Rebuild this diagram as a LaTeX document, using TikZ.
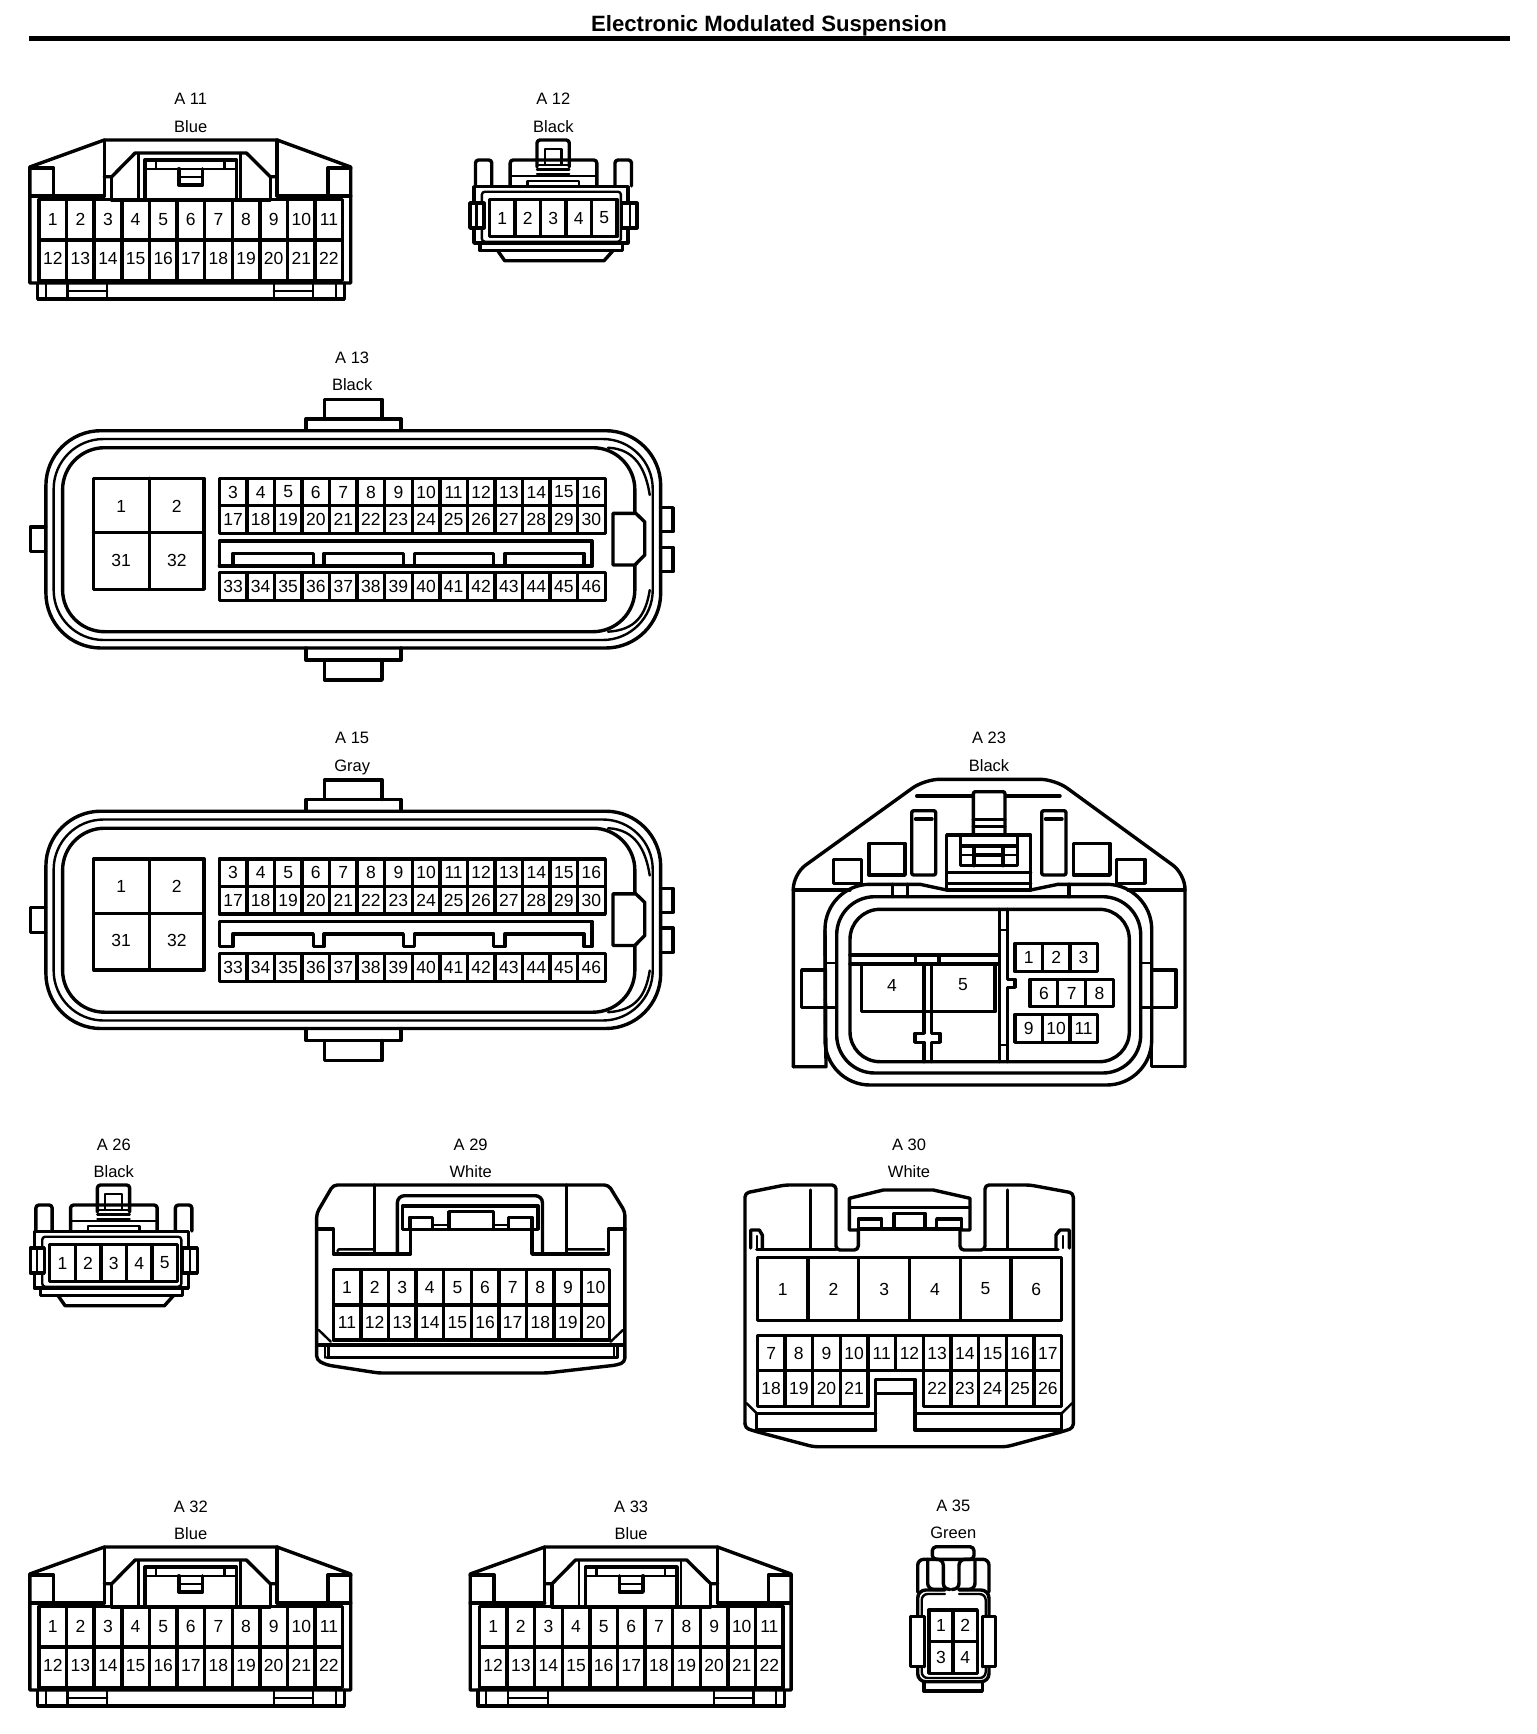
\documentclass[tikz,border=0pt]{standalone}
\usepackage{fontspec}
\setmainfont{Liberation Sans}
\tikzset{
 ln/.style={line width=3.4pt,line join=round,line cap=round},
 thn/.style={line width=2.4pt,line join=round,line cap=round},
 pin/.style={inner sep=0pt,font=\fontsize{17.5}{18}\selectfont},
 captext/.style={inner sep=0pt,anchor=base,font=\fontsize{16.5}{18}\selectfont},
 ttl/.style={inner sep=0pt,font=\fontsize{22.15}{24}\selectfont\bfseries},
 squeezed/.style={x=0.9935pt}
}
\newcommand{\pinoff}{0}
% x0, cell width, y top, y bottom, labels
\newcommand{\pinrow}[5]{\foreach \pl [count=\ci] in {#5}{
  \draw[ln] ({#1+(\ci-1)*#2},#3) rectangle ({#1+\ci*#2},#4);
  \node[pin] (p\pl) at ({#1+(\ci-.5)*#2},{(#3+#4)/2+\pinoff}) {\pl};}}
\newcommand{\heads}[4]{\node[captext] (name) at (#1,{#2+6}) {#3};\node[captext] (colour) at (#1,{#2+33.5}) {#4};}

\newcommand{\connAeleven}{
 \draw[ln] (30,283)--(30,167)--(105,140)--(279,140)--(353,167)--(353,283)--cycle;
 \draw[ln] (30,168)--(54,168)--(54,196) (30,196)--(105,196);
 \draw[ln] (353,168)--(330,168)--(330,196) (353,196)--(279,196);
 \draw[ln] (105,140)--(105,196) (279,140)--(279,196);
 \draw[ln] (105,176.7)--(112.5,176.7)--(136,153)--(248,153)--(272,176.7)--(279,176.7);
 \draw[ln] (112.5,176.7)--(112.5,200)--(272,200)--(272,176.7);
 \draw[thn] (139.5,153)--(139.5,200) (242,153)--(242,200);
 \draw[ln] (146,198)--(146,160)--(238,160)--(238,198);
 \draw[thn] (146,168.7)--(238,168.7) (157,160)--(157,168.7) (226,160)--(226,168.7);
 \draw[ln] (180,168.7)--(180,185)--(204,185)--(204,168.7);
 \draw[thn] (180,176.7)--(204,176.7);
 \draw[ln] (38,283)--(38,299)--(346.5,299)--(346.5,283);
 \draw[thn] (46,283)--(46,299) (338,283)--(338,299);
 \draw[thn] (68,283)--(68,299) (108,283)--(108,299) (68,291)--(108,291);
 \draw[thn] (275.5,283)--(275.5,299) (315,283)--(315,299) (275.5,291)--(315,291);
 \pinrow{39.2}{27.8}{199.5}{240}{1,2,3,4,5,6,7,8,9,10,11}
 \renewcommand{\pinoff}{-2}
 \pinrow{39.2}{27.8}{240}{280.7}{12,13,14,15,16,17,18,19,20,21,22}
 \renewcommand{\pinoff}{0}
}
\newcommand{\connAtwelve}{
 \draw[ln,rounded corners=3pt] (540.5,167)--(540.5,140)--(573,140)--(573,167);
 \draw[thn] (548.4,165)--(548.4,149)--(565,149)--(565,165);
 \draw[thn] (540.5,165)--(573,165) (540.5,169.5)--(573,169.5) (540.5,174)--(573,174);
 \draw[ln,rounded corners=3pt] (513.5,186)--(513.5,160)--(600.7,160)--(600.7,186);
 \draw[thn] (513.5,176)--(600.7,176);
 \draw[ln,rounded corners=3pt] (478.6,186)--(478.6,160)--(495,160)--(495,186);
 \draw[ln,rounded corners=3pt] (619,186)--(619,160)--(635.6,160)--(635.6,186);
 \draw[thn] (531,185)--(531,181)--(583,181)--(583,185);
 \draw[ln] (477,243)--(477,186.7)--(632,186.7)--(632,243)--cycle;
 \draw[ln] (483,243)--(483,250.7)--(626.4,250.7)--(626.4,243);
 \draw[ln] (501,250.7)--(508,260.7)--(608,260.7)--(617,250.7);
 \draw[thn,rounded corners=3pt] (485,191.7) rectangle (625,241.7);
 \draw[ln,fill=white] (473,203) rectangle (487,228);
 \draw[thn] (479.5,203)--(479.5,228);
 \draw[ln,fill=white] (625.5,203) rectangle (641,228);
 \draw[thn] (634,203)--(634,228);
 \pinrow{492.6}{25.7}{199.3}{236.7}{1,2,3,4,5}
}
\newcommand{\connBig}{
 \draw[ln] (326.6,419)--(326.6,399.3)--(384.5,399.3)--(384.5,419);
 \draw[ln] (307.8,430)--(307.8,419)--(403.8,419)--(403.8,430);
 \draw[ln,rounded corners=55pt] (46.2,430.7) rectangle (665,648);
 \draw[thn,rounded corners=50pt] (54,439) rectangle (657,640);
 \draw[ln,rounded corners=42pt] (63,447.7) rectangle (639,631.7);
 \draw[thn] (612,447.7) .. controls (640,449) and (650,470) .. (654,495);
 \draw[thn] (612,631.7) .. controls (640,630) and (650,615) .. (654,590);
 \draw[ln] (307.8,648)--(307.8,660)--(403.8,660)--(403.8,648);
 \draw[ln] (326.6,660)--(326.6,680)--(384.5,680)--(384.5,660);
 \draw[ln] (46,527)--(30.5,527)--(30.5,551.7)--(46,551.7);
 \draw[ln] (665,507.7)--(677.5,507.7)--(677.5,531.7)--(665,531.7);
 \draw[ln] (665,547.3)--(677.5,547.3)--(677.5,571.7)--(665,571.7);
 \draw[ln,fill=white] (617,513.3)--(640,513.3)--(649,522)--(649,555)--(639,565)--(617,565)--cycle;
 \draw[ln] (94.2,478.3) rectangle (205.5,589.3) (150.3,478.3)--(150.3,589.3) (94.2,532.7)--(205.5,532.7);
 \node[pin] (p1) at (122,506) {1};
 \node[pin] (p2) at (178,506) {2};
 \node[pin] (p31) at (122,560) {31};
 \node[pin] (p32) at (178,560) {32};
 \pinrow{220.7}{27.75}{478.3}{505.7}{3,4,5,6,7,8,9,10,11,12,13,14,15,16}
 \pinrow{220.7}{27.75}{505.7}{533.3}{17,18,19,20,21,22,23,24,25,26,27,28,29,30}
 \pinrow{220.7}{27.75}{572.7}{600.7}{33,34,35,36,37,38,39,40,41,42,43,44,45,46}
 \draw[ln] (220.7,566)--(220.7,541)--(595.8,541)--(595.8,566)--(587.7,566)--(587.7,553.3)--(508.3,553.3)--(508.3,566)--(497,566)--(497,553.3)--(417.2,553.3)--(417.2,566)--(406,566)--(406,553.3)--(326.2,553.3)--(326.2,566)--(315.4,566)--(315.4,553.3)--(234.6,553.3)--(234.6,566)--cycle;
}
\begin{document}
\begin{tikzpicture}[x=1pt,y=-1pt]
\useasboundingbox (0,0) rectangle (1536,1734);
\fill[white] (0,0) rectangle (1536,1734);
\node[ttl] (title) at (769,26) {Electronic Modulated Suspension};
\fill[black] (28.7,36) rectangle (1509.6,41);

% A11
\begin{scope}[name prefix=A11-,squeezed]
 \heads{192}{99}{A 11}{Blue}
 \connAeleven
\end{scope}
% A12
\begin{scope}[name prefix=A12-,squeezed]
 \heads{557}{99}{A 12}{Black}
 \connAtwelve
\end{scope}
% A13
\begin{scope}[name prefix=A13-,squeezed]
 \heads{354.5}{357}{A 13}{Black}
 \connBig
 \draw[ln] (220.7,566)--(595.8,566);
\end{scope}
% A15
\begin{scope}[name prefix=A15-,squeezed,yshift=-380.5pt]
 \heads{354.5}{357}{A 15}{Gray}
 \connBig
\end{scope}
% A23
\begin{scope}[name prefix=A23-]
 \heads{989}{737.5}{A 23}{Black}
 \draw[ln,rounded corners=15pt] (793.3,1066.7)--(793.3,874)--(924.6,779.3)--(1055,779.3)--(1185,874)--(1185,1066.7);
 \draw[ln] (793.3,1066.7)--(826,1066.7)--(825,930);
 \draw[ln] (1185,1066.7)--(1151.7,1066.7)--(1151.7,1040);
 \draw[ln] (793.3,890)--(850,890) (1185,890)--(1128,890);
 \draw[ln,rounded corners=45pt] (825,1000)--(825,884.3)--(920,884.3);
 \draw[ln,rounded corners=45pt] (1151.7,1000)--(1151.7,884.3)--(1058,884.3);
 \draw[ln] (920,884.3)--(946.7,890) (1058,884.3)--(1030.7,890);
 \draw[ln,rounded corners=45pt] (825,1000)--(825,1085)--(1151.7,1085)--(1151.7,1000);
 \draw[ln,rounded corners=38pt] (836.7,896.7) rectangle (1140.7,1073);
 \draw[ln,rounded corners=30pt] (850,909.3) rectangle (1129.3,1061.7);
 \draw[ln] (825,970)--(801.7,970)--(801.7,1007.3)--(825,1007.3);
 \draw[ln] (1151.7,970)--(1176,970)--(1176,1007.3)--(1151.7,1007.3);
 \draw[thn] (825,962.7)--(836.7,962.7) (825,1007.3)--(836.7,1007.3) (1140.7,962.7)--(1151.7,962.7) (1140.7,1007.3)--(1151.7,1007.3);
 \draw[ln] (916.7,796)--(1060,796);
 \draw[ln,fill=white,rounded corners=2pt] (973.3,835)--(973.3,791.7)--(1005,791.7)--(1005,835);
 \draw[ln] (973.3,819.3)--(1005,819.3) (973.3,826.7)--(1005,826.7);
 \draw[ln] (946.7,890) rectangle (1030.7,835);
 \draw[ln] (946.7,872.7)--(1030.7,872.7) (946.7,883.3)--(1030.7,883.3);
 \draw[ln] (960.7,835)--(960.7,865.7)--(1017.3,865.7)--(1017.3,835);
 \draw[ln] (974,846)--(974,865.7) (1003,846)--(1003,865.7) (960.7,846)--(1017.3,846);
 \draw[thn] (960.7,855)--(974,855) (1003,855)--(1017.3,855);
 \draw[ln] (974,855)--(1003,855);
 \draw[ln,rounded corners=2pt] (911.7,810.7) rectangle (935.7,875);
 \draw[ln] (915.5,819)--(932,819);
 \draw[ln,rounded corners=2pt] (1041.7,810.7) rectangle (1066,875);
 \draw[ln] (1045.5,819)--(1062,819);
 \draw[ln] (869,843.3) rectangle (905,875);
 \draw[ln] (1073.3,843.3) rectangle (1110,875);
 \draw[ln] (833.3,859.3) rectangle (861.7,883.3);
 \draw[ln] (1116.7,859.3) rectangle (1145,883.3);
 \draw[ln] (892.7,884.3)--(892.7,896.7) (907.3,884.3)--(907.3,896.7) (1069,884.3)--(1069,896.7);
 \draw[ln] (850,955)--(998.3,955) (850,964)--(998.3,964);
 \draw[ln] (915.7,955)--(915.7,964) (939,955)--(939,964);
 \draw[ln] (999.3,909.3)--(999.3,1061.7) (1007.3,909.3)--(1007.3,979.3)--(1015,979.3)--(1015,987.3)--(1007.3,987.3)--(1007.3,1061.7);
 \draw[thn] (999.3,930)--(1007.3,930) (999.3,1045)--(1007.3,1045);
 \draw[ln] (924,964)--(924,1033.3)--(915,1033.3)--(915,1042.3)--(924,1042.3)--(924,1061.7);
 \draw[ln] (931.7,964)--(931.7,1033.3)--(940,1033.3)--(940,1042.3)--(931.7,1042.3)--(931.7,1061.7);
 \draw[ln] (861.7,964)--(861.7,1011.7)--(995,1011.7)--(995,964);
 \node[pin] (p4) at (892,985.5) {4};
 \node[pin] (p5) at (963,985) {5};
 \pinrow{1015}{27.43}{943.3}{971.7}{1,2,3}
 \pinrow{1030}{27.77}{979.3}{1006.7}{6,7,8}
 \pinrow{1015}{27.43}{1014.3}{1042.3}{9,10,11}
\end{scope}
% A26
\begin{scope}[name prefix=A26-,squeezed,xshift=-439.6pt,yshift=-1045pt]
 \heads{557}{99}{A 26}{Black}
 \connAtwelve
\end{scope}
% A29
\begin{scope}[name prefix=A29-,squeezed]
 \heads{473.75}{1144}{A 29}{White}
 \draw[ln,rounded corners=4pt] (335.4,1185)--(612.5,1185)--(629,1211.7)--(629,1362)--(621,1365)--(550,1373)--(381,1373)--(329,1365)--(318.75,1360)--(318.75,1213.3)--cycle;
 \draw[ln] (377,1185)--(377,1254) (570,1185)--(570,1254);
 \draw[ln] (318.75,1229)--(335.4,1229)--(335.4,1254)--(413.3,1254)--(413.3,1229.3);
 \draw[ln] (629,1229)--(612.5,1229)--(612.5,1254)--(535.4,1254)--(535.4,1229.3);
 \draw[ln,rounded corners=7pt] (400,1254)--(400,1195.7)--(546,1195.7)--(546,1254);
 \draw[ln] (405,1229.3)--(405,1206)--(541.7,1206)--(541.7,1229.3)--cycle;
 \draw[ln] (412.5,1229.3)--(412.5,1217.3)--(435.4,1217.3)--(435.4,1229.3);
 \draw[ln] (511.7,1229.3)--(511.7,1217.3)--(535.4,1217.3)--(535.4,1229.3);
 \draw[ln] (452,1229.3)--(452,1211.7)--(496.7,1211.7)--(496.7,1229.3);
 \draw[thn] (435.4,1225)--(452,1225) (496.7,1225)--(511.7,1225);
 \draw[thn] (339.6,1251)--(341,1249.3)--(377,1249.3) (571.7,1249.3)--(608.3,1249.3);
 \pinrow{335.4}{27.79}{1269.3}{1305}{1,2,3,4,5,6,7,8,9,10}
 \pinrow{335.4}{27.79}{1305}{1340}{11,12,13,14,15,16,17,18,19,20}
 \draw[ln] (320.8,1345)--(627,1345) (329,1357.7)--(621,1357.7);
 \draw[thn] (327,1345)--(327,1357.7) (330.5,1345)--(330.5,1357.7) (618,1345)--(618,1357.7) (621.5,1345)--(621.5,1357.7);
 \draw[thn] (320.8,1330)--(333,1341.7) (627,1330)--(614.6,1341.7);
\end{scope}
% A30
\begin{scope}[name prefix=A30-]
 \heads{909}{1144}{A 30}{White}
 \draw[ln,rounded corners=4pt] (745,1423.3)--(745,1193)--(785,1185)--(836,1185)--(836,1250)--(858.3,1250)--(858.3,1230);
 \draw[ln,rounded corners=4pt] (745,1423.3)--(745,1428)--(756.7,1431.7)--(813.3,1446.7)--(1006.7,1446.7)--(1062,1431.7)--(1073.3,1428)--(1073.3,1193)--(1030,1185)--(985,1185)--(985,1250)--(960,1250)--(960,1230);
 \draw[ln] (849.3,1230)--(849.3,1198.3)--(883.3,1190)--(933.3,1190)--(970,1198.3)--(970,1230)--(960,1230) (849.3,1230)--(858.3,1230);
 \draw[thn] (849.3,1207.3)--(970,1207.3);
 \draw[ln] (810.7,1190)--(810.7,1249) (1007.3,1190)--(1007.3,1249);
 \draw[ln] (756.7,1249.3)--(836,1249.3) (985,1249.3)--(1058,1249.3);
 \draw[ln] (750.7,1248)--(750.7,1230)--(759.3,1230)--(762.3,1235)--(762.3,1248);
 \draw[thn] (756.7,1236)--(756.7,1248);
 \draw[ln] (1069.3,1248)--(1069.3,1230)--(1060,1230)--(1056,1235)--(1056,1248);
 \draw[thn] (1063,1236)--(1063,1248);
 \draw[ln] (858.3,1229)--(961.7,1229);
 \draw[ln] (858.3,1229)--(858.3,1219)--(881.7,1219)--(881.7,1229);
 \draw[ln] (936.7,1229)--(936.7,1219)--(961.7,1219)--(961.7,1229);
 \draw[ln] (894,1229)--(894,1213.3)--(925,1213.3)--(925,1229);
 \pinrow{757.3}{50.73}{1257.3}{1320.7}{1,2,3,4,5,6}
 \pinrow{757.3}{27.67}{1335.7}{1370.7}{7,8,9,10,11,12,13,14,15,16,17}
 \pinrow{757.3}{27.67}{1370.7}{1406.7}{18,19,20,21}
 \pinrow{923.3}{27.67}{1370.7}{1406.7}{22,23,24,25,26}
 \draw[ln] (875.7,1430)--(875.7,1379.3)--(915,1379.3)--(915,1430);
 \draw[ln] (875.7,1393.3)--(915,1393.3);
 \draw[ln] (875.7,1430)--(756.7,1430)--(756.7,1413.3) (915,1430)--(1061.7,1430)--(1061.7,1413.3);
 \draw[ln] (756.7,1413.3)--(875.7,1413.3) (915,1413.3)--(1061.7,1413.3);
 \draw[thn] (746.7,1403.3)--(756.7,1413.3) (1072,1403.3)--(1061.7,1413.3);
\end{scope}
% A32
\begin{scope}[name prefix=A32-,squeezed,yshift=-1407pt]
 \heads{192}{99}{A 32}{Blue}
 \connAeleven
\end{scope}
% A33
\begin{scope}[name prefix=A33-,squeezed,xshift=440.4pt,yshift=-1407pt]
 \heads{192}{99}{A 33}{Blue}
 \connAeleven
\end{scope}
% A35
\begin{scope}[name prefix=A35-]
 \heads{953.3}{1505}{A 35}{Green}
 \draw[ln,rounded corners=4pt] (932.3,1559.3)--(932.3,1546.7)--(974,1546.7)--(974,1559.3)--cycle;
 \draw[ln,rounded corners=6pt] (917.7,1592)--(917.7,1559.3)--(943.3,1559.3)--(943.3,1589.3)--(950,1589.3);
 \draw[ln,rounded corners=6pt] (927.7,1559.3)--(927.7,1589.3)--(943.3,1589.3);
 \draw[ln,rounded corners=6pt] (989,1592)--(989,1559.3)--(959,1559.3)--(959,1589.3)--(952,1589.3);
 \draw[ln,rounded corners=6pt] (975,1559.3)--(975,1589.3)--(959,1589.3);
 \draw[ln,rounded corners=8pt] (945,1590)--(917.7,1590)--(917.7,1681.7)--(989,1681.7)--(989,1590)--(959,1590);
 \draw[thn,rounded corners=6pt] (945,1594)--(921.7,1594)--(921.7,1678)--(985.7,1678)--(985.7,1594)--(959,1594);
 \draw[ln,fill=white] (924.3,1616.7)--(910.7,1616.7)--(910.7,1666.7)--(924.3,1666.7);
 \draw[ln,fill=white] (982.5,1616.7)--(995.3,1616.7)--(995.3,1666.7)--(982.5,1666.7);
 \draw[ln] (924.3,1616.7)--(924.3,1666.7) (982.5,1616.7)--(982.5,1666.7);
 \draw[ln] (924,1681.7)--(924,1691)--(982.3,1691)--(982.3,1681.7);
 \pinrow{929}{24.15}{1610}{1641.7}{1,2}
 \pinrow{929}{24.15}{1641.7}{1673.3}{3,4}
\end{scope}
\end{tikzpicture}
\end{document}
